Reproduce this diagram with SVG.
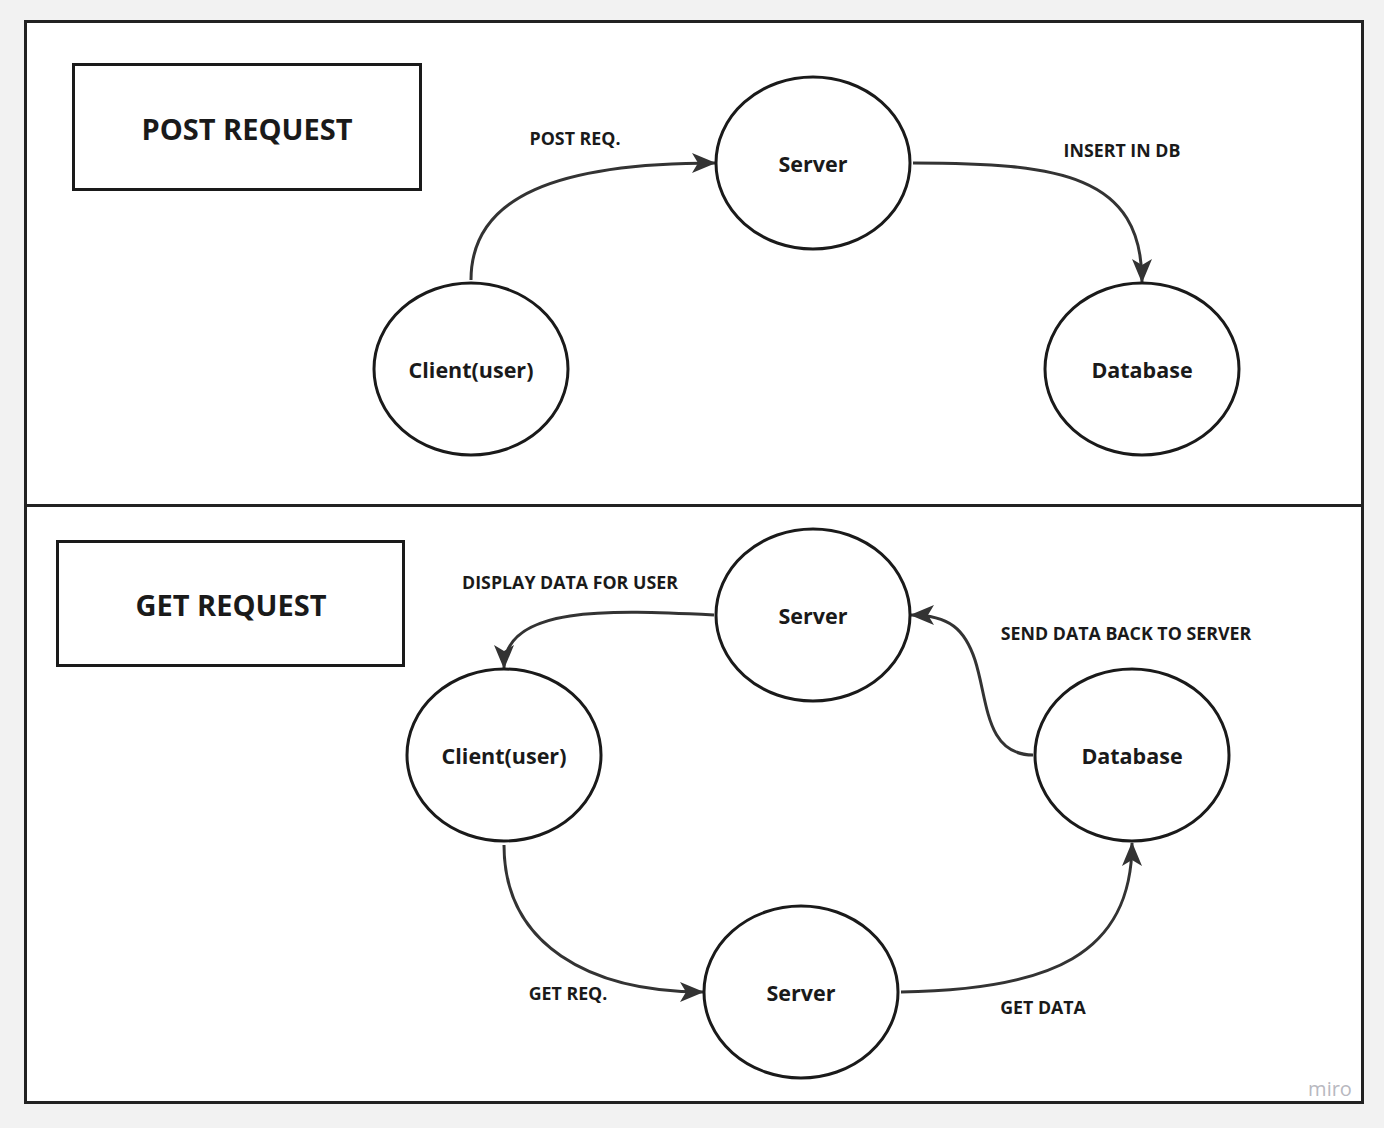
<svg xmlns="http://www.w3.org/2000/svg" width="1384" height="1128" viewBox="0 0 1384 1128">
<defs>
<style>
.node{fill:#fff;stroke:#1a1a1a;stroke-width:3}
.lbl{font-family:"Open Sans","Liberation Sans",sans-serif;font-weight:700;fill:#1a1a1a;text-anchor:middle;dominant-baseline:central}
.nl{font-size:21.5px}
.el{font-size:17.8px}
.title{font-size:29px}
.conn{fill:none;stroke:#333;stroke-width:3}
</style>
<marker id="arr" viewBox="0 0 24 22" refX="23" refY="11" markerWidth="24" markerHeight="22" markerUnits="userSpaceOnUse" orient="auto">
<path d="M0,1 L24,11 L0,21 L6,11 z" fill="#333"/>
</marker>
</defs>
<rect x="0" y="0" width="1384" height="1128" fill="#f2f2f2"/>
<g id="frame">
<rect x="25.5" y="21.5" width="1337" height="1081" fill="#fff" stroke="#222" stroke-width="3"/>
<line x1="25" y1="505.5" x2="1362" y2="505.5" stroke="#222" stroke-width="3"/>
</g>
<g id="title-post">
<rect class="node" x="73.5" y="64.5" width="347" height="125"/>
<text class="lbl title" x="247" y="128">POST REQUEST</text>
</g>
<g id="title-get">
<rect class="node" x="57.5" y="541.5" width="346" height="124"/>
<text class="lbl title" x="231" y="604">GET REQUEST</text>
</g>
<g id="connectors">
<path class="conn" marker-end="url(#arr)" d="M471,280 C471,195 560,163 715,163"/>
<path class="conn" marker-end="url(#arr)" d="M913,163 C1060,163 1142,175 1142,282"/>
<path class="conn" marker-end="url(#arr)" d="M714,615 C610,610 504,605 504,668"/>
<path class="conn" marker-end="url(#arr)" d="M1033,755 C985,755 988,700 975,660 C965,630 950,615 911,615"/>
<path class="conn" marker-end="url(#arr)" d="M504,845 C504,945 590,992 703,992"/>
<path class="conn" marker-end="url(#arr)" d="M901,992 C1050,990 1132,955 1132,843"/>
</g>
<g id="edge-labels">
<text class="lbl el" x="575" y="138">POST REQ.</text>
<text class="lbl el" x="1122" y="150">INSERT IN DB</text>
<text class="lbl el" x="570" y="582">DISPLAY DATA FOR USER</text>
<text class="lbl el" x="1126" y="633">SEND DATA BACK TO SERVER</text>
<text class="lbl el" x="568" y="993">GET REQ.</text>
<text class="lbl el" x="1043" y="1007">GET DATA</text>
</g>
<g id="post-server">
<ellipse class="node" cx="813" cy="163" rx="97" ry="86"/>
<text class="lbl nl" x="813" y="163">Server</text>
</g>
<g id="post-client">
<ellipse class="node" cx="471" cy="369" rx="97" ry="86"/>
<text class="lbl nl" x="471" y="369">Client(user)</text>
</g>
<g id="post-database">
<ellipse class="node" cx="1142" cy="369" rx="97" ry="86"/>
<text class="lbl nl" x="1142" y="369">Database</text>
</g>
<g id="get-server-top">
<ellipse class="node" cx="813" cy="615" rx="97" ry="86"/>
<text class="lbl nl" x="813" y="615">Server</text>
</g>
<g id="get-client">
<ellipse class="node" cx="504" cy="755" rx="97" ry="86"/>
<text class="lbl nl" x="504" y="755">Client(user)</text>
</g>
<g id="get-database">
<ellipse class="node" cx="1132" cy="755" rx="97" ry="86"/>
<text class="lbl nl" x="1132" y="755">Database</text>
</g>
<g id="get-server-bottom">
<ellipse class="node" cx="801" cy="992" rx="97" ry="86"/>
<text class="lbl nl" x="801" y="992">Server</text>
</g>
<text x="1330" y="1088" font-family="'Open Sans','Liberation Sans',sans-serif" font-size="20" fill="#b8b8c0" text-anchor="middle" dominant-baseline="central">miro</text>
</svg>
